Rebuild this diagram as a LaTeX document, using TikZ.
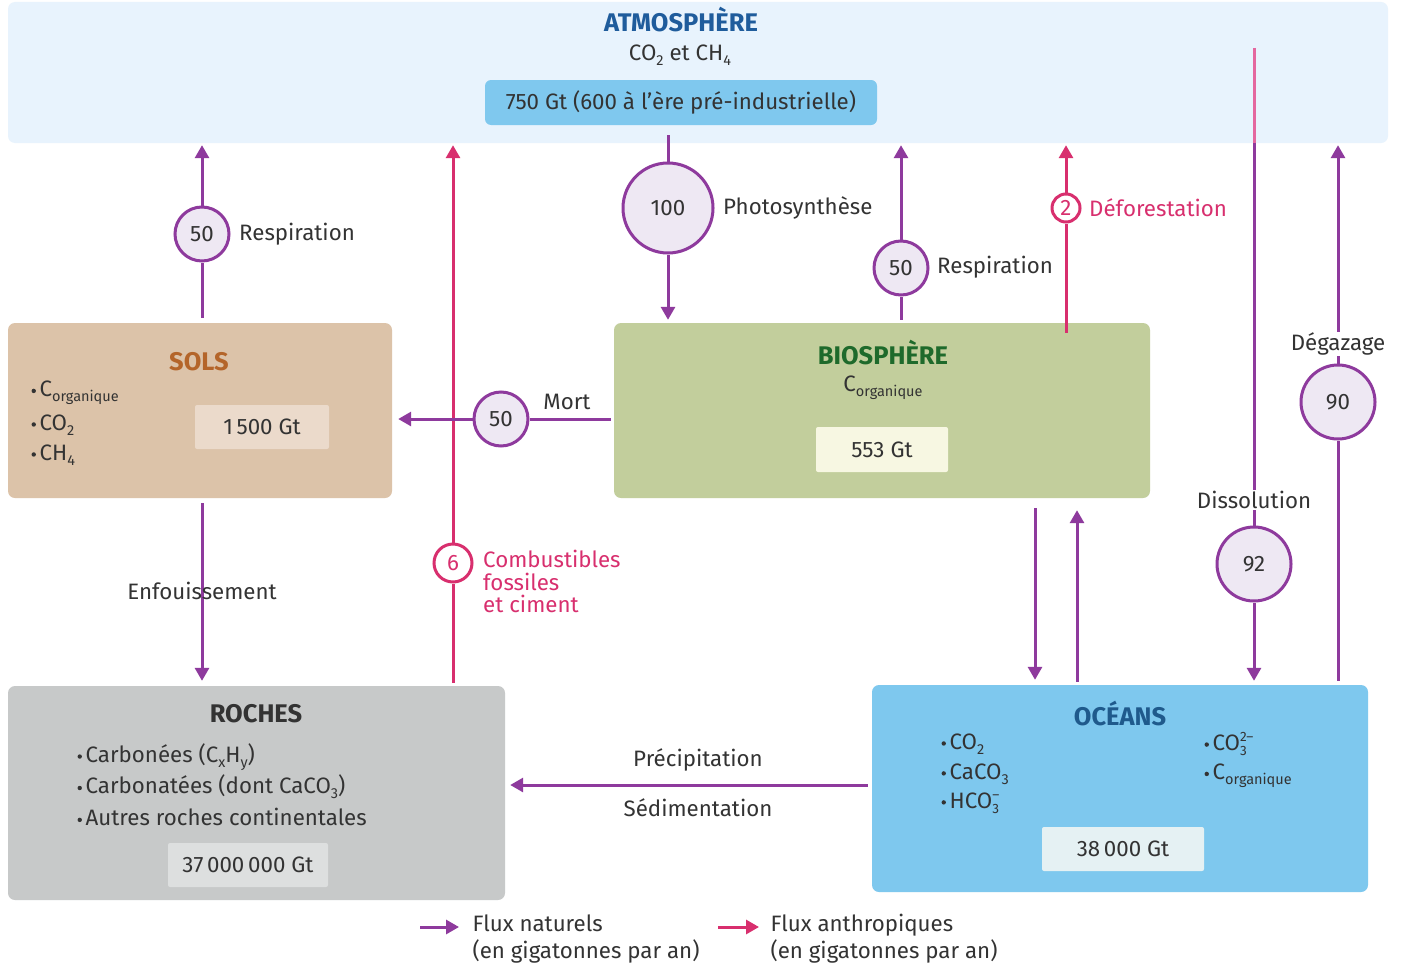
\documentclass[tikz,border=0pt]{standalone}
\usepackage{fontspec}
\setmainfont{Fira Sans}
\usetikzlibrary{arrows.meta,calc}
\definecolor{nat}{HTML}{8E3A9D}
\definecolor{anth}{HTML}{D82F6E}
\definecolor{anthlight}{HTML}{E4679F}
\definecolor{atmbg}{HTML}{E8F3FD}
\definecolor{atmbox}{HTML}{7FC8EE}
\definecolor{atmtitle}{HTML}{1F5C9C}
\definecolor{solbg}{HTML}{DCC3A9}
\definecolor{solval}{HTML}{EBDACB}
\definecolor{soltitle}{HTML}{B4652A}
\definecolor{biobg}{HTML}{C2CE9C}
\definecolor{bioval}{HTML}{F7F7E2}
\definecolor{biotitle}{HTML}{1E6A2B}
\definecolor{rocbg}{HTML}{C7C9C9}
\definecolor{rocval}{HTML}{DDDFDF}
\definecolor{ocebg}{HTML}{7EC8EE}
\definecolor{oceval}{HTML}{E5F1F3}
\definecolor{ocetitle}{HTML}{1F5A8C}
\definecolor{txt}{HTML}{333333}
\definecolor{lav}{HTML}{EEE8F3}
\newcommand\lo[1]{\raisebox{-0.45ex}{\fontsize{14.5}{14.5}\selectfont #1}}
\newcommand\losup[2]{\rlap{\raisebox{-0.45ex}{\fontsize{13.5}{13.5}\selectfont #1}}\raisebox{0.75ex}{\fontsize{13.5}{13.5}\selectfont #2}}
\newcommand\bul{\tikz[baseline=-0.5pt]\fill[txt] (0,5.2pt) circle (2.2pt);\,}
\begin{document}
\begin{tikzpicture}[x=1pt,y=-1pt,
  every node/.style={text=txt,font=\fontsize{22.3}{26}\selectfont},
  panel/.style={rounded corners=7pt,draw=none,inner sep=0pt},
  valbox/.style={rounded corners=2pt,inner sep=0pt},
  ttl/.style={font=\fontsize{25.5}{28}\selectfont\bfseries},
  flux/.style={circle,draw=nat,line width=3pt,fill=lav,inner sep=0pt},
  aflux/.style={circle,draw=anth,line width=3pt,fill=white,inner sep=0pt,text=anth},
  natl/.style={draw=nat,line width=3pt},
  nata/.style={natl,-{Triangle[width=14pt,length=13pt]}},
  anthl/.style={draw=anth,line width=3pt},
  antha/.style={anthl,-{Triangle[width=14pt,length=13pt]}},
  lbl/.style={inner sep=1pt},
]
\useasboundingbox (0,0) rectangle (1404,966);
\fill[white] (0,0) rectangle (1404,966);

% ---------- panels ----------
\node[panel,fill=atmbg,minimum width=1380pt,minimum height=141pt] (atm) at (698,72.5) {};
\node[ttl,text=atmtitle] (atmT) at (681,20) {ATMOSPHÈRE};
\node (atmS) at (680,55) {CO\lo{2} et CH\lo{4}};
\node[panel,rounded corners=6pt,fill=atmbox,minimum width=392pt,minimum height=45pt] (atmV) at (681,102.5) {750 Gt (600 à l’ère pré-industrielle)};

\node[panel,fill=solbg,minimum width=384pt,minimum height=175pt] (sols) at (200,410.5) {};
\node[ttl,text=soltitle] (solsT) at (199,362) {SOLS};
\node[anchor=west] (solsA) at (28,393) {\bul C\lo{organique}};
\node[anchor=west] (solsB) at (28,425) {\bul CO\lo{2}};
\node[anchor=west] (solsC) at (28,455) {\bul CH\lo{4}};
\node[valbox,fill=solval,minimum width=134pt,minimum height=44pt] (solsV) at (262,427) {1\,500 Gt};

\node[panel,fill=biobg,minimum width=536pt,minimum height=175pt] (bio) at (882,410.5) {};
\node[ttl,text=biotitle] (bioT) at (883,353) {BIOSPHÈRE};
\node (bioS) at (883,388) {C\lo{organique}};
\node[valbox,fill=bioval,minimum width=132pt,minimum height=45pt] (bioV) at (882,449.5) {553 Gt};

\node[panel,fill=rocbg,minimum width=497pt,minimum height=214pt] (roc) at (256.5,793) {};
\node[ttl,text=txt] (rocT) at (256,714) {ROCHES};
\node[anchor=west] (rocA) at (74,757) {\bul Carbonées (C\lo{x}H\lo{y})};
\node[anchor=west] (rocB) at (74,787) {\bul Carbonatées (dont CaCO\lo{3})};
\node[anchor=west] (rocC) at (74,817) {\bul Autres roches continentales};
\node[valbox,fill=rocval,minimum width=160pt,minimum height=44pt] (rocV) at (248,865) {37\,000\,000 Gt};

\node[panel,fill=ocebg,minimum width=496pt,minimum height=207pt] (oce) at (1120,788.5) {};
\node[ttl,text=ocetitle] (oceT) at (1120,714) {OCÉANS};
\node[anchor=west] (oceA) at (938,744) {\bul CO\lo{2}};
\node[anchor=west] (oceB) at (938,774) {\bul CaCO\lo{3}};
\node[anchor=west] (oceC) at (938,803) {\bul HCO\losup{3}{–}};
\node[anchor=west] (oceD) at (1201,744) {\bul CO\losup{3}{2–}};
\node[anchor=west] (oceE) at (1201,776) {\bul C\lo{organique}};
\node[valbox,fill=oceval,minimum width=162pt,minimum height=44pt] (oceV) at (1123,849) {38\,000 Gt};

% ---------- flux circles ----------
\node[flux,minimum size=54pt] (fSR) at (202,234) {50};
\node[lbl,anchor=west] (fSRl) at (238,234) {Respiration};
\node[flux,minimum size=90pt] (fPh) at (668,208) {100};
\node[lbl,anchor=west] (fPhl) at (722,208) {Photosynthèse};
\node[flux,minimum size=54pt] (fBR) at (901,268) {50};
\node[lbl,anchor=west] (fBRl) at (936,267) {Respiration};
\node[aflux,minimum size=28pt] (fDef) at (1066,208) {2};
\node[lbl,anchor=west,text=anth] (fDefl) at (1088,208) {Déforestation};
\node[flux,minimum size=54pt] (fMo) at (501,419) {50};
\node[lbl] (fMol) at (567,402) {Mort};
\node[aflux,minimum size=38pt] (fFos) at (453,563) {6};
\node[lbl,anchor=north west,align=left,text=anth,font=\fontsize{22.3}{22.5}\selectfont] (fFosl) at (482,549) {Combustibles\\fossiles\\et ciment};
\node[flux,minimum size=74pt] (fDi) at (1254,564) {92};
\node[flux,minimum size=74pt] (fDg) at (1338,402) {90};

\coordinate (dTop) at (1254,48);
\coordinate (enf) at (202,591);

% ---------- connectors ----------
% sols respiration
\draw[natl,shorten <=5pt] (sols.north -| fSR) -- (fSR);
\draw[nata,shorten >=2pt] (fSR) -- (fSR |- atm.south);
% fossil fuels
\draw[anthl,shorten <=3pt] (roc.north -| fFos) -- (fFos);
\draw[antha,shorten >=2pt] (fFos) -- (fFos |- atm.south);
% photosynthesis
\draw[natl,shorten <=10pt] (atmV.south -| fPh) -- (fPh);
\draw[nata,shorten >=3pt] (fPh) -- (fPh |- bio.north);
% biosphere respiration
\draw[natl,shorten <=3pt] (bio.north -| fBR) -- (fBR);
\draw[nata,shorten >=2pt] (fBR) -- (fBR |- atm.south);
% deforestation
\draw[anthl,shorten <=-10pt] (bio.north -| fDef) -- (fDef);
\draw[antha,shorten >=2pt] (fDef) -- (fDef |- atm.south);
% mort
\draw[natl,shorten <=3pt] (bio.west |- fMo) -- (fMo);
\draw[nata,shorten >=6pt] (fMo) -- (fMo -| sols.east);
% enfouissement
\draw[nata,shorten <=5pt,shorten >=5pt] (sols.south -| enf) -- (roc.north -| enf);
\node[lbl] (enfl) at (enf) {Enfouissement};
% biosphere <-> oceans
\draw[nata,shorten <=10pt,shorten >=5pt] (bio.south -| 1035,0) -- (oce.north -| 1035,0);
\draw[nata,shorten <=3pt,shorten >=12pt] (oce.north -| 1077,0) -- (bio.south -| 1077,0);
% dissolution
\draw[draw=anthlight,line width=3pt] (dTop) -- (dTop |- atm.south);
\draw[natl] (dTop |- atm.south) -- (fDi);
\draw[nata,shorten >=4pt] (fDi) -- (fDi |- oce.north);
\node[lbl,fill=white] (fDil) at (1254,500) {Dissolution};
% degazage
\draw[natl,shorten <=4pt] (oce.north -| fDg) -- (fDg);
\draw[nata,shorten >=2pt] (fDg) -- (fDg |- atm.south);
\node[lbl,fill=white] (fDgl) at (1338,344) {Dégazage};
% precipitation / sedimentation
\draw[nata,shorten <=4pt,shorten >=5pt] (oce.west |- 0,785) -- (roc.east |- 0,785);
\node[lbl] (prec) at (698,760) {Précipitation};
\node[lbl] (sedi) at (698,808) {Sédimentation};

% ---------- legend ----------
\coordinate (l1a) at (420,927);
\coordinate (l1b) at (459,927);
\coordinate (l2a) at (718,927);
\coordinate (l2b) at (759,927);
\draw[nata] (l1a) -- (l1b);
\draw[antha] (l2a) -- (l2b);
\node[anchor=north west,align=left,font=\fontsize{22.3}{27}\selectfont] (leg1) at (469,911) {Flux naturels\\(en gigatonnes par an)};
\node[anchor=north west,align=left,font=\fontsize{22.3}{27}\selectfont] (leg2) at (767,911) {Flux anthropiques\\(en gigatonnes par an)};
\end{tikzpicture}
\end{document}
